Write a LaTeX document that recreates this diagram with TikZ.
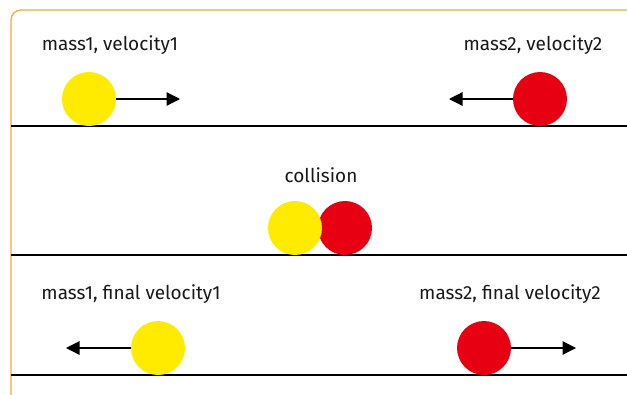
\documentclass[tikz,border=0pt]{standalone}
\usepackage{fontspec}
\setmainfont{Fira Sans}
\usetikzlibrary{arrows.meta}
\definecolor{ballY}{HTML}{FFEB00}
\definecolor{ballR}{HTML}{E60012}
\definecolor{frameO}{HTML}{F4A93A}
\begin{document}
\begin{tikzpicture}[x=1pt,y=-1pt,
  ball/.style={circle,inner sep=0pt,minimum size=54pt},
  yball/.style={ball,fill=ballY},
  rball/.style={ball,fill=ballR},
  lbl/.style={font=\fontsize{19}{21}\selectfont,inner sep=0pt,text=black!90},
  ground/.style={line width=1.3pt,black},
  vel/.style={line width=1.2pt,-{Triangle[length=13.5pt,width=13.5pt]}}]
\useasboundingbox (0,0) rectangle (627,394);
\begin{scope}
\clip (0,0) rectangle (627,394);
\draw[frameO,line width=1.3pt,rounded corners=10pt] (11,10) rectangle (660,420);
\end{scope}
% ground lines
\coordinate (g1a) at (11,126); \coordinate (g1b) at (627,126);
\coordinate (g2a) at (11,255); \coordinate (g2b) at (627,255);
\coordinate (g3a) at (11,375); \coordinate (g3b) at (627,375);
\draw[ground] (g1a) -- (g1b);
\draw[ground] (g2a) -- (g2b);
\draw[ground] (g3a) -- (g3b);
% row 1
\node[lbl] (t1) at (110,45) {mass1, velocity1};
\node[lbl] (t2) at (533,45) {mass2, velocity2};
\node[yball] (y1) at (89,99) {};
\node[rball] (r1) at (540,99) {};
\coordinate (a1) at (180,99);
\coordinate (a2) at (449,99);
\draw[vel] (y1.east) -- (a1);
\draw[vel] (r1.west) -- (a2);
% row 2
\node[lbl] (t3) at (321,175) {collision};
\node[rball] (r2) at (345,228) {};
\node[yball] (y2) at (295,228) {};
% row 3
\node[lbl] (t4) at (131,294) {mass1, final velocity1};
\node[lbl] (t5) at (510,294) {mass2, final velocity2};
\node[yball] (y3) at (158,348) {};
\node[rball] (r3) at (484,348) {};
\coordinate (a3) at (66,348);
\coordinate (a4) at (576,348);
\draw[vel] (y3.west) -- (a3);
\draw[vel] (r3.east) -- (a4);
\end{tikzpicture}
\end{document}
